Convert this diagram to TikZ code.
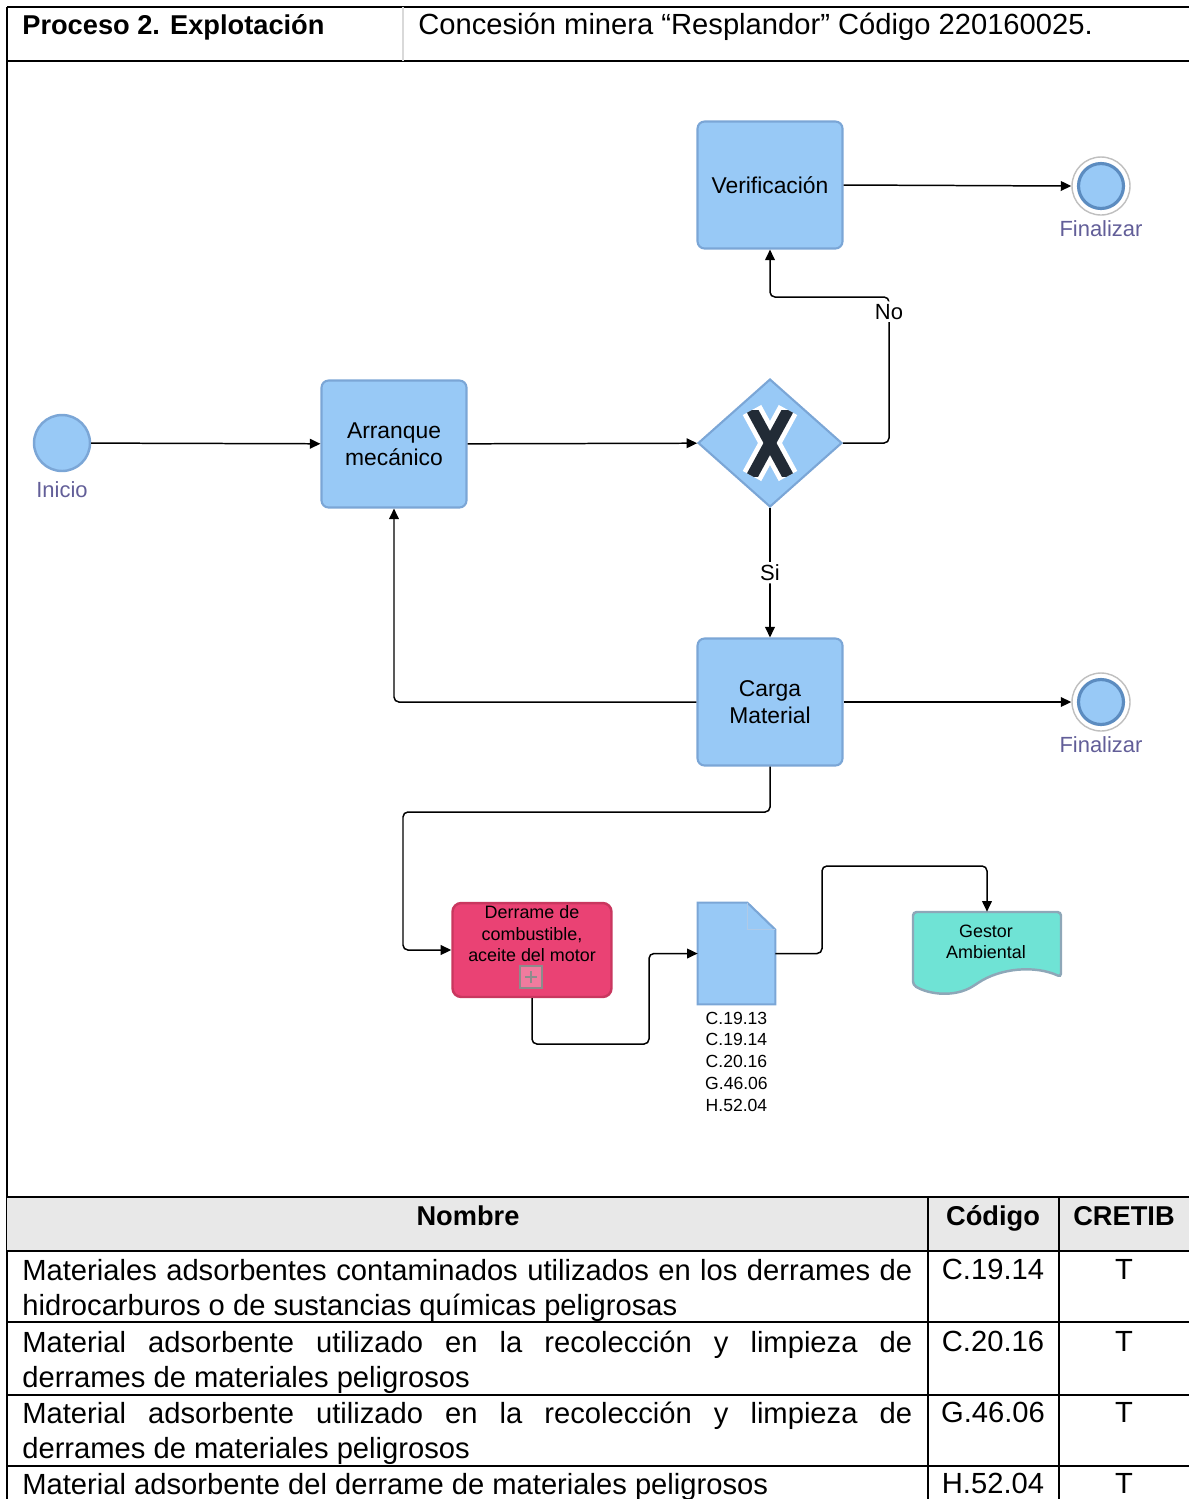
\documentclass[tikz,border=0pt]{standalone}
\usepackage{fontspec}
\setmainfont{Liberation Sans}
\usetikzlibrary{shapes.geometric,arrows.meta}

\definecolor{taskblue}{HTML}{98C9F6}
\definecolor{taskedge}{HTML}{7BA6D6}
\definecolor{spillpink}{HTML}{EA4274}
\definecolor{spilledge}{HTML}{C9375F}
\definecolor{gestorteal}{HTML}{6FE3D5}
\definecolor{gestoredge}{HTML}{8EA7B8}
\definecolor{evtext}{HTML}{625E98}
\definecolor{endedge}{HTML}{5C8CC0}
\definecolor{headgray}{HTML}{E8E8E8}
\definecolor{xdark}{HTML}{222B36}

\begin{document}
\begin{tikzpicture}[x=0.02cm, y=-0.02cm]
  \tikzset{
    task/.style={draw=taskedge, line width=1.2pt, fill=taskblue, rounded corners=4pt,
      minimum width=2.9cm, minimum height=2.54cm, align=center,
      font=\fontsize{13}{15.5}\selectfont, inner sep=2pt},
    gateway/.style={draw=taskedge, line width=1.2pt, fill=taskblue, diamond,
      minimum width=2.88cm, minimum height=2.56cm, inner sep=0pt},
    startevent/.style={draw=taskedge, line width=1.4pt, fill=taskblue, circle,
      minimum size=1.12cm, inner sep=0pt},
    endring/.style={draw=black!25, line width=0.8pt, fill=white, circle,
      minimum size=1.16cm, inner sep=0pt},
    endcore/.style={draw=endedge, line width=1.8pt, fill=taskblue, circle,
      minimum size=0.9cm, inner sep=0pt},
    evlabel/.style={text=evtext, font=\fontsize{12.5}{14}\selectfont},
    flow/.style={line width=0.85pt, rounded corners=2.8pt, ->,
      >={Triangle[length=6pt, width=5.5pt]}},
    flowlabel/.style={fill=white, inner sep=1.5pt, font=\fontsize{12.5}{14}\selectfont},
    smalltext/.style={font=\fontsize{10.2}{12.2}\selectfont, align=center, inner sep=1pt},
    grid/.style={line width=1.1pt},
    thin grid/.style={line width=0.7pt},
    cell/.style={font=\fontsize{16.6}{19.8}\selectfont, inner sep=0pt},
    headcell/.style={font=\fontsize{15.5}{19.8}\selectfont\bfseries, inner sep=0pt}
  }
  \useasboundingbox (0,0) rectangle (1189,1499);

  % Header row
  \draw[grid] (7,7) -- (1189,7);
  \draw[grid] (7,61) -- (1189,61);
  \draw[black!15, line width=0.8pt] (403,7) -- (403,61);
  \draw[grid] (7,7) -- (7,1499);
  \node[headcell, anchor=base west] (proc) at (22,34) {Proceso 2. Explotación};
  \node[cell, anchor=base west] (conc) at (418,34) {Concesión minera “Resplandor” Código 220160025.};

  % Events and tasks
  \node[startevent] (inicio) at (62,443) {};
  \node[evlabel, below=2pt] at (inicio.south) {Inicio};
  \node[task] (arranque) at (394,444) {Arranque\\mecánico};
  \node[gateway] (gw) at (770,443) {};
  \node[task] (verif) at (770,185) {Verificación};
  \node[task] (carga) at (770,702) {Carga\\Material};
  \node[endring] (fin1) at (1101,186) {};
  \node[endcore] at (fin1) {};
  \node[evlabel, below=-1pt] at (fin1.south) {Finalizar};
  \node[endring] (fin2) at (1101,702) {};
  \node[endcore] at (fin2) {};
  \node[evlabel, below=-1pt] at (fin2.south) {Finalizar};

  % Exclusive gateway mark
  \begin{scope}
    \clip (740,404) rectangle (800,482);
    \draw[white, line width=12pt] (752,410) -- (788,476) (788,410) -- (752,476);
  \end{scope}
  \begin{scope}
    \clip (740,410) rectangle (800,476);
    \draw[xdark, line width=6.5pt] (752,410) -- (788,476) (788,410) -- (752,476);
  \end{scope}

  % Spill sub-process
  \node[draw=spilledge, line width=1.4pt, fill=spillpink, rounded corners=5pt,
    minimum width=3.18cm, minimum height=1.88cm] (derrame) at (532,950) {};
  \node[smalltext, below] at ([yshift=-1.2pt]derrame.north) {Derrame de\\combustible,\\aceite del motor};
  \node[draw=black!45, line width=0.6pt, fill=spillpink!70!white, minimum size=0.44cm,
    inner sep=0pt] (plus) at (531,977) {};
  \draw[black!45, line width=1.2pt] ([xshift=-3.5pt]plus.center) -- ([xshift=3.5pt]plus.center)
    ([yshift=-3.5pt]plus.center) -- ([yshift=3.5pt]plus.center);

  % Waste document
  \node[minimum width=1.54cm, minimum height=2.02cm, inner sep=0pt] (doc) at (736.5,953.5) {};
  \draw[draw=taskedge, line width=1.2pt, fill=taskblue]
    (doc.north west) -- ([xshift=-0.56cm]doc.north east) -- ([yshift=-0.54cm]doc.north east)
    -- (doc.south east) -- (doc.south west) -- cycle;
  \draw[taskedge!60, line width=0.7pt] ([xshift=-0.56cm]doc.north east)
    -- ([xshift=-0.56cm, yshift=-0.54cm]doc.north east) -- ([yshift=-0.54cm]doc.north east);
  \node[smalltext, font=\fontsize{10}{12.5}\selectfont, below=3pt] at (doc.south)
    {C.19.13\\C.19.14\\C.20.16\\G.46.06\\H.52.04};

  % Environmental manager
  \node[minimum width=2.96cm, minimum height=1.62cm, inner sep=0pt] (gestor) at (987,952.5) {};
  \draw[draw=gestoredge, line width=1.4pt, fill=gestorteal, rounded corners=2pt]
    (913,912) -- (1061,912) -- (1061,977)
    .. controls (1035,965) and (1000,968) .. (975,985)
    .. controls (955,997) and (930,995) .. (913,985) -- cycle;
  \node[smalltext] at (986,942) {Gestor\\Ambiental};

  % Sequence flows
  \draw[flow] (inicio) -- (arranque);
  \draw[flow] (arranque) -- (gw);
  \draw[flow] (gw.east) -| (889,297) node[flowlabel, pos=0.95] {No} -| (verif.south);
  \draw[flow] (gw.south) -- (carga.north) node[flowlabel, midway] {Si};
  \draw[flow] (verif.east) -- (fin1.west);
  \draw[flow] (carga.east) -- (fin2.west);
  \draw[flow] (carga.west) -| (arranque.south);
  \draw[flow] (carga.south) |- (403,812) |- (derrame.west);
  \draw[flow] (derrame.south) |- (649,1044) |- (doc.west);
  \draw[flow] (doc.east) -| (822,866) -| (gestor.north);

  % Waste table
  \fill[headgray] (7,1197) rectangle (1189,1251);
  \draw[grid] (7,1197) -- (1189,1197);
  \draw[grid] (7,1251) -- (1189,1251);
  \foreach \yrow in {1322,1395,1466}
    \draw[thin grid] (7,\yrow) -- (1189,\yrow);
  \foreach \xcol in {928,1059}
    \draw[thin grid] (\xcol,1197) -- (\xcol,1499);
  \node[headcell, anchor=base] (hnombre) at (468,1225) {Nombre};
  \node[headcell, anchor=base] (hcodigo) at (993,1225) {Código};
  \node[headcell, anchor=base] (hcretib) at (1124,1225) {CRETIB};

  \node[cell, anchor=north west, text width=17.8cm, align=justify] (r1) at (22,1259)
    {Materiales adsorbentes contaminados utilizados en los derrames de\linebreak hidrocarburos o de sustancias químicas peligrosas};
  \node[cell, anchor=north west, text width=17.8cm, align=justify] (r2) at (22,1331)
    {Material adsorbente utilizado en la recolección y limpieza de\linebreak derrames de materiales peligrosos};
  \node[cell, anchor=north west, text width=17.8cm, align=justify] (r3) at (22,1402)
    {Material adsorbente utilizado en la recolección y limpieza de\linebreak derrames de materiales peligrosos};
  \node[cell, anchor=north west] (r4) at (22,1473)
    {Material adsorbente del derrame de materiales peligrosos};
  \foreach \yline/\code in {1279/C.19.14, 1351/C.20.16, 1422/G.46.06, 1493/H.52.04} {
    \node[cell, anchor=base] at (993,\yline) {\code};
    \node[cell, anchor=base] at (1124,\yline) {T};
  }
\end{tikzpicture}
\end{document}
